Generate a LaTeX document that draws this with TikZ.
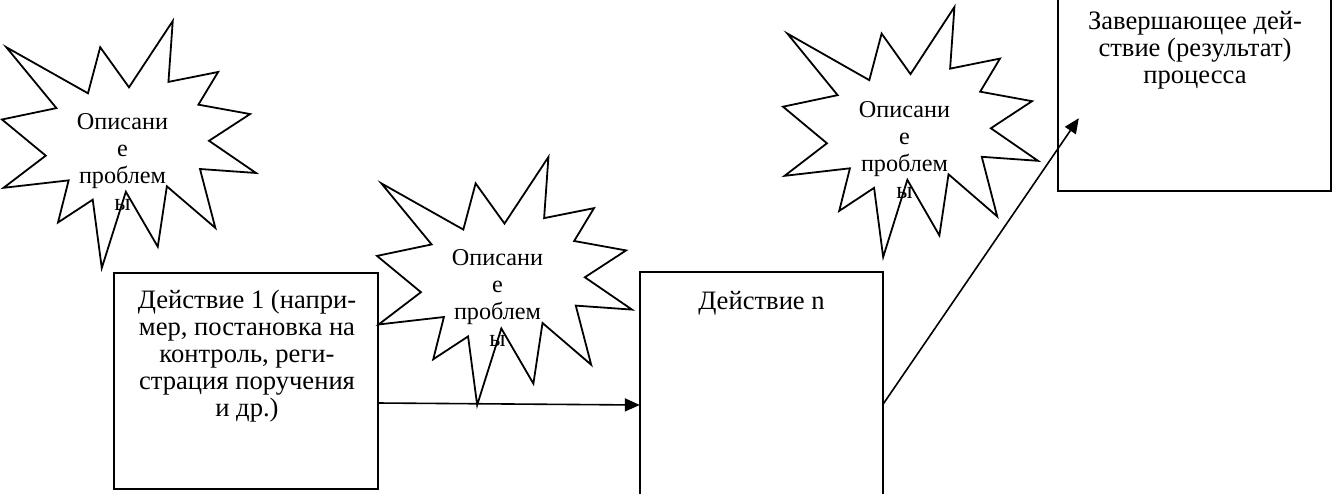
\documentclass[tikz,border=0pt]{standalone}
\usepackage{fontspec}
\setmainfont{Liberation Serif}
\usetikzlibrary{arrows.meta}
\newcommand\burstpath{(0.5000,0.2685) -- (0.6723,0) -- (0.6553,0.2465) -- (0.8509,0.2063) -- (0.7732,0.3387) -- (0.9767,0.3767) -- (0.8151,0.4850) -- (1.0000,0.6153) -- (0.7795,0.5992) -- (0.8400,0.8377) -- (0.6491,0.6693) -- (0.6133,0.9138) -- (0.4876,0.6914) -- (0.3928,1.0000) -- (0.3572,0.7235) -- (0.2205,0.8156) -- (0.2624,0.6452) -- (0.0063,0.6753) -- (0.1723,0.5451) -- (0,0.3988) -- (0.2142,0.3526) -- (0.0171,0.1063) -- (0.3385,0.2926) -- (0.3867,0.1063) -- cycle}
\tikzset{
  boxline/.style={draw=black, line width=1.4pt},
  burstline/.style={draw=black, fill=white, line width=1.8pt, line join=miter},
  txt/.style={font=\fontsize{26.6pt}{27pt}\selectfont, align=center, anchor=base, inner sep=0pt},
  btxt/.style={font=\fontsize{24.2pt}{27pt}\selectfont, align=center, anchor=base, inner sep=0pt},
  arr/.style={draw=black, line width=1.6pt, -{Triangle[length=15pt,width=13pt]}},
}
\begin{document}
\begin{tikzpicture}[x=1pt,y=-1pt]
\useasboundingbox (0,0) rectangle (1335,493);
\clip (0,0) rectangle (1335,493);
\fill[white] (0,0) rectangle (1335,493);
% boxes
\path[boxline] (114,273) rectangle (378,489);
\node[inner sep=0pt, minimum width=264pt, minimum height=216pt] (b1) at (246,381) {};
\path[boxline] (640,272) rectangle (883,540);
\node[inner sep=0pt, minimum width=243pt, minimum height=268pt] (bn) at (761.5,406) {};
\path[boxline] (1058,-10) rectangle (1331,191);
\node[inner sep=0pt, minimum width=273pt, minimum height=201pt] (bf) at (1194.5,90.5) {};
% texts in boxes (base = last line baseline)
\node[txt] (t1) at (247,416) {Действие 1 (напри-\\мер, постановка на\\контроль, реги-\\страция поручения\\и др.)};
\node[txt] (tn) at (761.5,309) {Действие n};
\node[txt] (tf) at (1195,83) {Завершающее дей-\\ствие (результат)\\процесса};
% bursts
\begin{scope}[shift={(2,21)}, xscale=254, yscale=247]
  \path[burstline] \burstpath;
\end{scope}
\begin{scope}[shift={(377,157)}, xscale=255, yscale=248]
  \path[burstline] \burstpath;
\end{scope}
\begin{scope}[shift={(783,7)}, xscale=255, yscale=250]
  \path[burstline] \burstpath;
\end{scope}
\node[btxt] (s1) at (122.5,210) {Описани\\е\\проблем\\ы};
\node[btxt] (s2) at (497.5,346) {Описани\\е\\проблем\\ы};
\node[btxt] (s3) at (904.5,198) {Описани\\е\\проблем\\ы};
% arrows
\draw[arr] ([yshift=-22pt]b1.east) -- ([yshift=1pt]bn.west);
\draw[arr] ([yshift=2pt]bn.east) -- ([xshift=21pt,yshift=73pt]bf.south west);
\end{tikzpicture}
\end{document}
